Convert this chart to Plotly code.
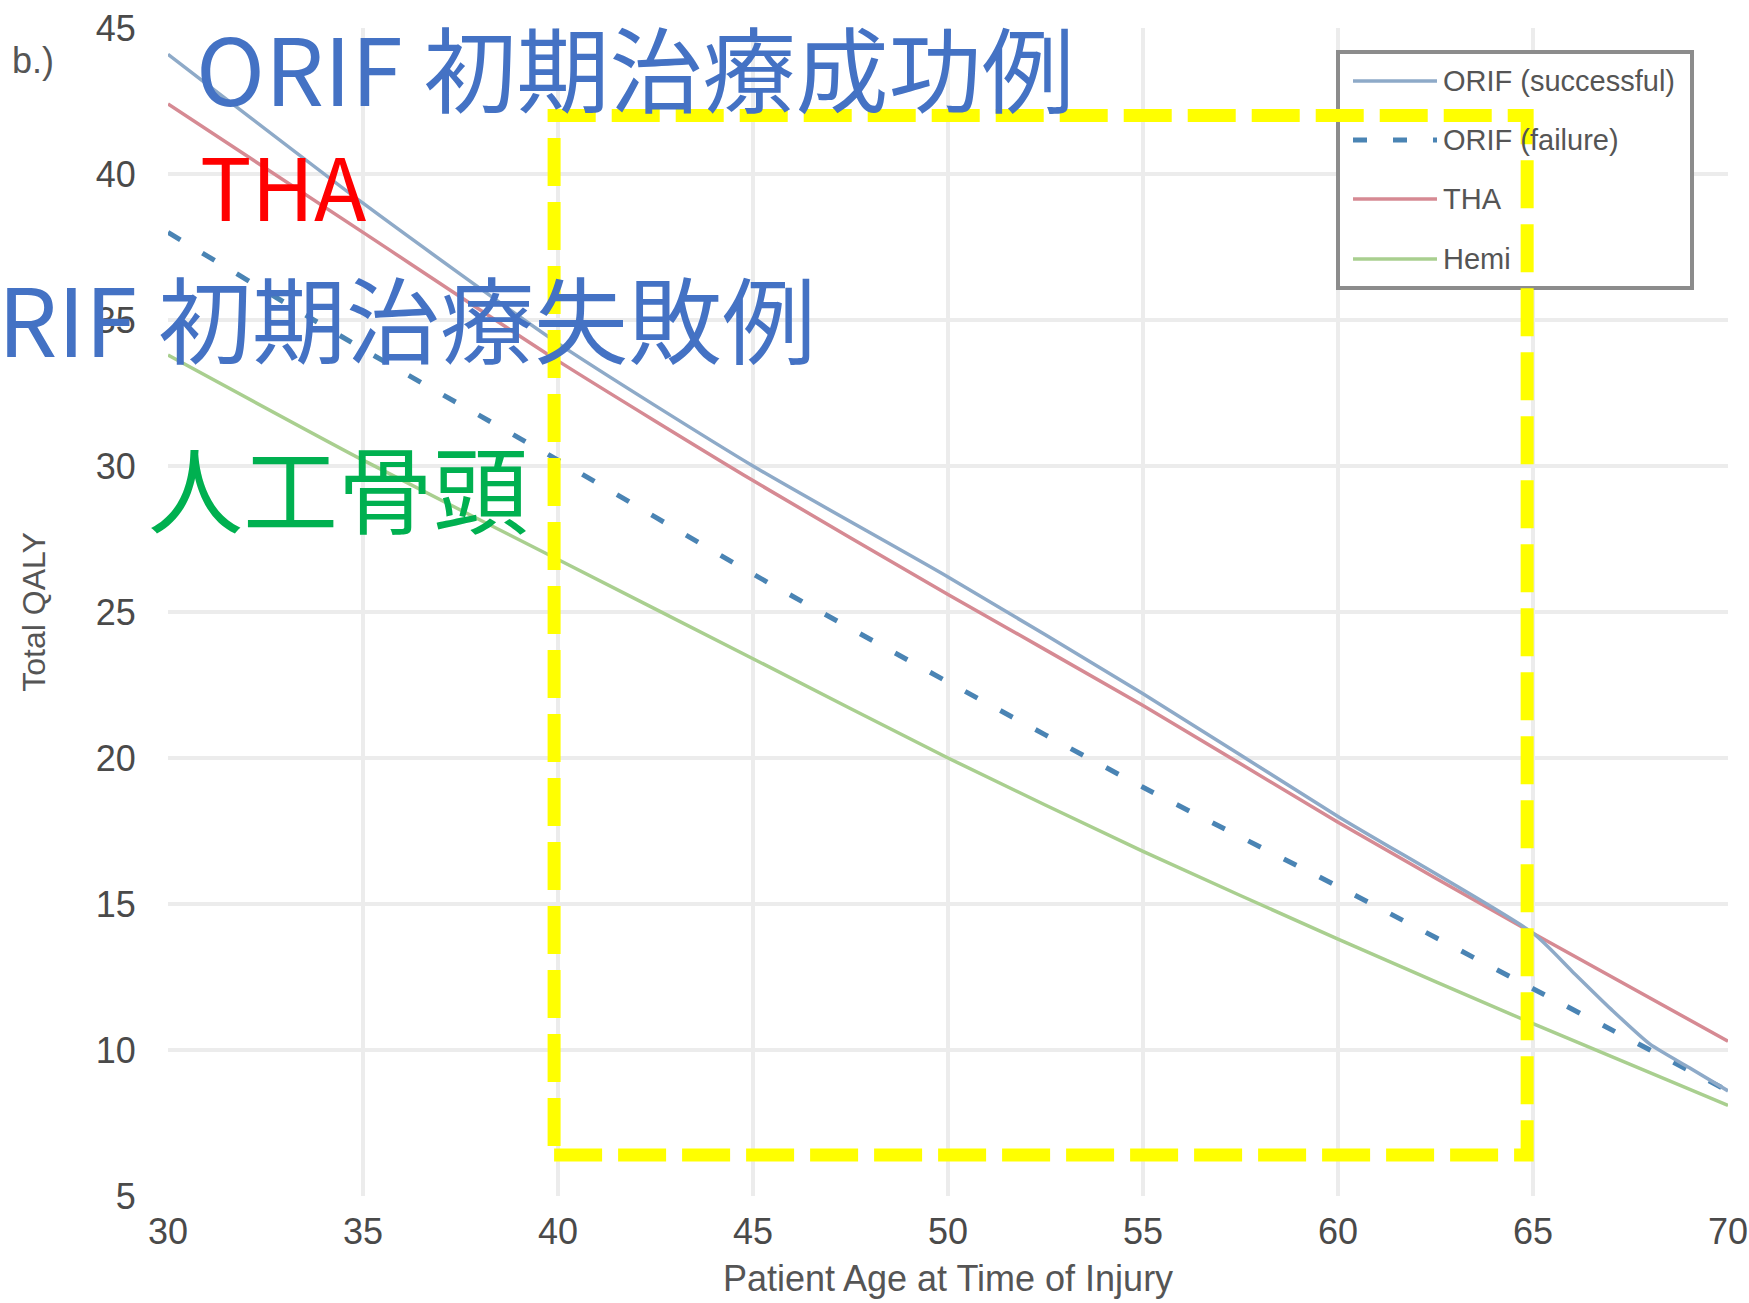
import plotly.graph_objects as go

# ---- data -----------------------------------------------------------------
ages = [30, 35, 40, 45, 50, 55, 60, 65, 70]
ages_orif_success = [30, 35, 40, 45, 50, 55, 60, 65, 66, 67, 68, 69, 70]

orif_success = [44.1, 39.0, 34.2, 30.0, 26.2, 22.2, 18.0, 14.0, 12.7, 11.4, 10.2, 9.4, 8.6]
orif_failure = [38.0, 34.0, 30.2, 26.3, 22.6, 19.0, 15.6, 12.1, 8.6]
tha = [42.4, 38.0, 33.6, 29.5, 25.6, 21.8, 17.8, 14.0, 10.3]
hemi = [33.8, 30.2, 26.8, 23.4, 20.0, 16.8, 13.8, 10.9, 8.1]

series_names = ["ORIF (successful)", "ORIF (failure)", "THA", "Hemi"]
x_ticks = [30, 35, 40, 45, 50, 55, 60, 65, 70]
y_ticks = [5, 10, 15, 20, 25, 30, 35, 40, 45]

# highlighted age window
focus_age = [39.9, 64.85]
focus_qaly = [6.4, 42.0]

# ---- styling ----------------------------------------------------------------
W, H = 1749, 1303
PL, PR, PT, PB = 168, 1728, 28, 1196  # plot-area pixel box

styles = {
    "ORIF (successful)": dict(color="#8eaac8", width=3.5, dash="solid"),
    "ORIF (failure)": dict(color="#4a84b4", width=5, dash="14px,26px"),
    "THA": dict(color="#d68a93", width=3.5, dash="solid"),
    "Hemi": dict(color="#a9cf8f", width=3.5, dash="solid"),
}

AXIS_FONT = "Liberation Sans, Arial, sans-serif"
CJK_FONT = "Noto Sans CJK JP, Noto Sans CJK SC, sans-serif"
TEXT_GREY = "#4a4a4a"


def px_x(px):
    return (px - PL) / (PR - PL)


def px_y(py):
    return (PB - py) / (PB - PT)


fig = go.Figure()

traces = [
    ("Hemi", ages, hemi),
    ("THA", ages, tha),
    ("ORIF (failure)", ages, orif_failure),
    ("ORIF (successful)", ages_orif_success, orif_success),
]
for name, xs, ys in traces:
    st = styles[name]
    fig.add_trace(go.Scatter(
        x=xs, y=ys, mode="lines", name=name, showlegend=False,
        line=dict(color=st["color"], width=st["width"], dash=st["dash"],
                  shape="spline", smoothing=0.6),
    ))

shapes = []
annotations = []

# legend box
shapes.append(dict(
    type="rect", xref="paper", yref="paper",
    x0=px_x(1338), x1=px_x(1692), y0=px_y(288), y1=px_y(52),
    line=dict(color="#8c8c8c", width=4), fillcolor="white", layer="above",
))
legend_rows = [81, 140, 199, 259]
for name, row in zip(series_names, legend_rows):
    st = styles[name]
    shapes.append(dict(
        type="line", xref="paper", yref="paper",
        x0=px_x(1353), x1=px_x(1437), y0=px_y(row), y1=px_y(row),
        line=dict(color=st["color"], width=st["width"], dash=st["dash"]),
        layer="above",
    ))
    annotations.append(dict(
        text=name, xref="paper", yref="paper", x=px_x(1441), y=px_y(row),
        xanchor="left", yanchor="middle", showarrow=False,
        font=dict(family=AXIS_FONT, size=29, color="#555555"),
    ))

# highlighted window
shapes.append(dict(
    type="rect", xref="x", yref="y",
    x0=focus_age[0], x1=focus_age[1], y0=focus_qaly[0], y1=focus_qaly[1],
    line=dict(color="#ffff00", width=13, dash="48px,16px"),
    fillcolor="rgba(0,0,0,0)", layer="above",
))

# panel tag
annotations.append(dict(
    text="b.)", xref="paper", yref="paper", x=px_x(10), y=px_y(60),
    xanchor="left", yanchor="middle", showarrow=False,
    font=dict(family=AXIS_FONT, size=36, color="#555555"),
))

# treatment labels
labels = [
    ("ORIF 初期治療成功例", "#4472c4", 194, 66, "left", 93),
    ("THA", "#ff0000", 198, 184, "left", 86),
    ("ORIF 初期治療失敗例", "#4472c4", 818, 316, "right", 94),
    ("人工骨頭", "#00b050", 146, 485, "left", 95),
]
for text, color, lx, ly, anchor, size in labels:
    annotations.append(dict(
        text=text, xref="paper", yref="paper", x=px_x(lx), y=px_y(ly),
        xanchor=anchor, yanchor="middle", showarrow=False,
        font=dict(family=CJK_FONT, size=size, color=color),
    ))

grid = "#ececec"
fig.update_layout(
    width=W, height=H,
    margin=dict(l=PL, r=W - PR, t=PT, b=H - PB, pad=0, autoexpand=False),
    paper_bgcolor="white", plot_bgcolor="white",
    shapes=shapes, annotations=annotations,
    xaxis=dict(
        range=[30, 70], tickvals=x_ticks, ticktext=[str(v) for v in x_ticks],
        showgrid=True, gridcolor=grid, gridwidth=4, zeroline=False,
        showline=False, ticks="outside", ticklen=4, tickcolor="rgba(0,0,0,0)",
        tickfont=dict(family=AXIS_FONT, size=36, color=TEXT_GREY),
        automargin=False,
        title=dict(text="Patient Age at Time of Injury", standoff=14,
                   font=dict(family=AXIS_FONT, size=36, color="#555555")),
    ),
    yaxis=dict(
        range=[5, 45], tickvals=y_ticks, ticktext=[str(v) for v in y_ticks],
        showgrid=True, gridcolor=grid, gridwidth=4, zeroline=False,
        showline=False, ticks="outside", ticklen=24, tickcolor="rgba(0,0,0,0)",
        tickfont=dict(family=AXIS_FONT, size=36, color=TEXT_GREY),
        automargin=False,
        title=dict(text="Total QALY", standoff=40,
                   font=dict(family=AXIS_FONT, size=32, color="#555555")),
    ),
)

fig.write_html("out.html")
